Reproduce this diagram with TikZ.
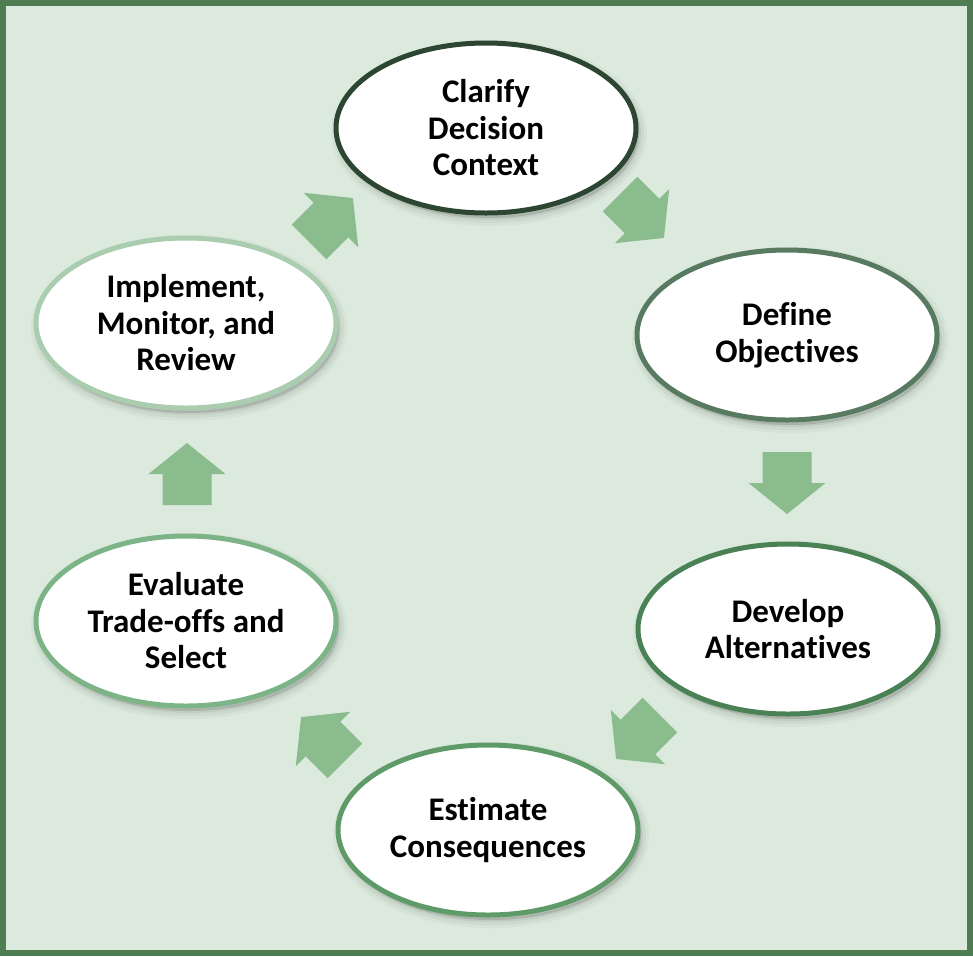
\documentclass[tikz,border=0pt]{standalone}
\usepackage{fontspec}
\setmainfont{Carlito}[RawFeature={-liga;-clig;-dlig;-calt;-rlig}]
\usetikzlibrary{shapes.geometric}
\definecolor{bgfill}{RGB}{220,234,221}
\definecolor{frameline}{RGB}{78,125,84}
\definecolor{arrowfill}{RGB}{138,188,142}
\definecolor{edgeA}{RGB}{45,70,50}
\definecolor{edgeB}{RGB}{88,122,96}
\definecolor{edgeC}{RGB}{75,130,85}
\definecolor{edgeD}{RGB}{95,155,105}
\definecolor{edgeE}{RGB}{125,180,135}
\definecolor{edgeF}{RGB}{170,205,175}
\begin{document}
\begin{tikzpicture}[x=1pt,y=-1pt,
  stage/.style={ellipse, draw, fill=white, line width=5pt,
    minimum width=300pt, minimum height=170pt, inner sep=0pt, align=center,
    font=\fontsize{33}{36.5}\selectfont\bfseries,
    preaction={draw=black, line width=16pt, draw opacity=0.03, fill=black, fill opacity=0.03, transform canvas={shift={(3pt,-5pt)}}},
    preaction={draw=black, line width=10pt, draw opacity=0.04, fill=black, fill opacity=0.04, transform canvas={shift={(3pt,-5pt)}}},
    preaction={draw=black, line width=4pt, draw opacity=0.05, fill=black, fill opacity=0.05, transform canvas={shift={(3pt,-5pt)}}}},
  blockarrow/.pic={\fill[arrowfill] (-31,-24.5) -- (0,-24.5) -- (0,-38.5) -- (31,0) -- (0,38.5) -- (0,24.5) -- (-31,24.5) -- cycle;}
]
\useasboundingbox (0,0) rectangle (973,956);
\draw[line width=6pt, draw=frameline, fill=bgfill] (3,3) rectangle (970,953);

\node[stage, draw=edgeA] (clar) at (486,128) {Clarify\\Decision\\Context};
\node[stage, draw=edgeB] (defn) at (787,335) {Define\\Objec\kern0ptt\kern0pti\kern0ptves};
\node[stage, draw=edgeC] (devl) at (788,629) {Develop\\Alterna\kern0ptt\kern0pti\kern0ptves};
\node[stage, draw=edgeD] (estm) at (488,830) {Estimate\\Consequences};
\node[stage, draw=edgeE] (eval) at (186,621) {Evaluate\\Trade-of\kern0ptfs and\\Select};
\node[stage, draw=edgeF] (impl) at (186,323) {Implement,\\Monitor, and\\Review};

\coordinate (a1) at (331,220);
\coordinate (a2) at (642,216);
\coordinate (a3) at (787,483);
\coordinate (a4) at (638,737);
\coordinate (a5) at (323,739);
\coordinate (a6) at (187,474);

\pic[rotate=45] at (a1) {blockarrow};
\pic[rotate=-45] at (a2) {blockarrow};
\pic[rotate=-90] at (a3) {blockarrow};
\pic[rotate=-135] at (a4) {blockarrow};
\pic[rotate=135] at (a5) {blockarrow};
\pic[rotate=90] at (a6) {blockarrow};
\end{tikzpicture}
\end{document}
